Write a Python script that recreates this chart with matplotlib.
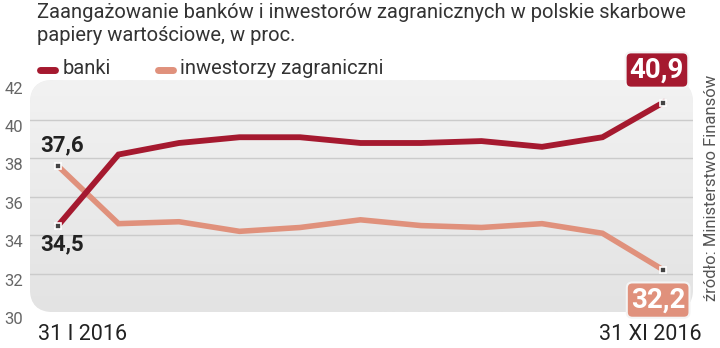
import matplotlib.pyplot as plt
import numpy as np
from matplotlib.patches import FancyBboxPatch

plt.rcParams['font.family'] = ['Roboto', 'DejaVu Sans']

# data (miesiące: 31 I 2016 ... 31 XI 2016)
months = list(range(11))
banki = [34.5, 38.2, 38.8, 39.1, 39.1, 38.8, 38.8, 38.9, 38.6, 39.1, 40.9]
inwestorzy = [37.6, 34.6, 34.7, 34.2, 34.4, 34.8, 34.5, 34.4, 34.6, 34.1, 32.2]
y_ticks = [30, 32, 34, 36, 38, 40, 42]
grid_lines = [32, 34, 36, 38, 40]
x_labels = ['31 I 2016', '31 XI 2016']

c_banki = '#a5192f'
c_inw = '#e0917c'
c_text = '#333333'

fig = plt.figure(figsize=(7.2, 3.48), dpi=100)
ax = fig.add_axes([30 / 720, 36 / 348, 663 / 720, 232 / 348])
ax.set_xlim(-0.463, 10.496)
ax.set_ylim(30, 42.08)
for s in ax.spines.values():
    s.set_visible(False)
ax.set_facecolor('none')

# rounded panel with soft gradient
panel = FancyBboxPatch((0, 0), 1, 1, boxstyle='round,pad=0,rounding_size=0.035',
                       transform=ax.transAxes, facecolor='#ececec', edgecolor='none',
                       mutation_aspect=663 / 232, zorder=0)
ax.add_patch(panel)
grad = np.linspace(0, 1, 100).reshape(-1, 1)
im = ax.imshow(grad, cmap=plt.matplotlib.colors.LinearSegmentedColormap.from_list(
    'g', ['#e3e3e3', '#f2f2f2']), extent=[0, 1, 0, 1], transform=ax.transAxes,
    aspect='auto', origin='lower', zorder=0.5)
im.set_clip_path(panel)

for g in grid_lines:
    ax.axhline(g, color='#cbcbcb', lw=1.0, zorder=1)

ax.plot(months, inwestorzy, color=c_inw, lw=4.0, solid_joinstyle='miter', zorder=3)
ax.plot(months, banki, color=c_banki, lw=4.2, solid_joinstyle='miter', zorder=4)

# end markers
for series in (banki, inwestorzy):
    ax.plot([months[0], months[-1]], [series[0], series[-1]], 's', ms=5,
            mfc='#444444', mec='white', mew=1.2, zorder=5)

ax.set_yticks(y_ticks)
ax.set_yticklabels([str(t) for t in y_ticks], fontsize=12, color='#666666')
ax.tick_params(axis='y', length=0, pad=5)
ax.tick_params(axis='x', length=0)
ax.set_xticks([])
for lbl in ax.get_yticklabels():
    lbl.set_va('top')

# value labels
ax.text(months[0] - 0.3, inwestorzy[0] + 0.5, '37,6', fontsize=16, fontweight='bold',
        color='#222222', ha='left', va='bottom', zorder=6)
ax.text(months[0] - 0.3, banki[0] - 0.4, '34,5', fontsize=16, fontweight='bold',
        color='#222222', ha='left', va='top', zorder=6)
ax.text(months[-1] - 0.1, banki[-1] + 1.7, '40,9', fontsize=20, fontweight='bold',
        color='white', ha='center', va='center', zorder=6,
        bbox=dict(boxstyle='round,pad=0.15,rounding_size=0.2', fc=c_banki,
                  ec='#f4f4f4', lw=1.5))
ax.text(months[-1] - 0.08, inwestorzy[-1] - 1.58, '32,2', fontsize=20, fontweight='bold',
        color='white', ha='center', va='center', zorder=6,
        bbox=dict(boxstyle='round,pad=0.15,rounding_size=0.2', fc=c_inw,
                  ec='#f4f4f4', lw=1.5))

# title, legend, axis labels, source
fig.text(37 / 720, 1 - 3 / 348, 'Zaangażowanie banków i inwestorów zagranicznych w polskie skarbowe',
         fontsize=14.5, color=c_text, ha='left', va='top')
fig.text(37 / 720, 1 - 26 / 348, 'papiery wartościowe, w proc.',
         fontsize=14.5, color=c_text, ha='left', va='top')

fig.lines.append(plt.Line2D([40 / 720, 55 / 720], [1 - 70 / 348] * 2, color=c_banki,
                            lw=5, solid_capstyle='round', transform=fig.transFigure))
fig.text(63 / 720, 1 - 69 / 348, 'banki', fontsize=14.5, color=c_text, ha='left', va='center')
fig.lines.append(plt.Line2D([158 / 720, 173 / 720], [1 - 70 / 348] * 2, color=c_inw,
                            lw=5, solid_capstyle='round', transform=fig.transFigure))
fig.text(180 / 720, 1 - 69 / 348, 'inwestorzy zagraniczni', fontsize=14.5, color=c_text,
         ha='left', va='center')

fig.text(38 / 720, 1 - 334 / 348, x_labels[0], fontsize=15.5, color='#222222',
         ha='left', va='center')
fig.text(702 / 720, 1 - 334 / 348, x_labels[1], fontsize=15.5, color='#222222',
         ha='right', va='center')

fig.text(711 / 720, 1 - 188 / 348, 'źródło: Ministerstwo Finansów', fontsize=12,
         color='#555555', rotation=90, ha='center', va='center')

fig.savefig('out.png', dpi=100)
